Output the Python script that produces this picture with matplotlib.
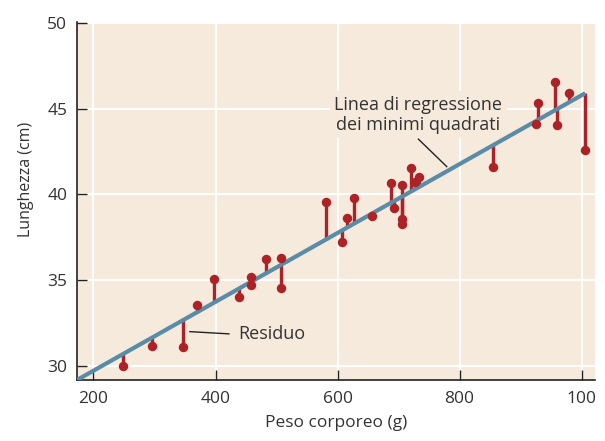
import numpy as np
import matplotlib
matplotlib.use("Agg")
import matplotlib.pyplot as plt

# --- data ---
peso = [249, 296, 346, 370, 397, 438, 458, 458, 482, 507, 507,
        581, 608, 616, 627, 657, 687, 693, 706, 706, 706, 720, 727, 733,
        855, 925, 929, 956, 960, 980, 1006]
lunghezza = [30.02, 31.18, 31.13, 33.56, 35.06, 34.0, 35.21, 34.72, 36.24, 36.28, 34.53,
             39.53, 37.25, 38.64, 39.77, 38.75, 40.65, 39.2, 40.55, 38.55, 38.28, 41.55, 40.75, 41.0,
             41.62, 44.11, 45.35, 46.56, 44.03, 45.92, 42.6]

# least squares line as drawn in the figure
fit_intercept = 25.71
fit_slope = 0.02007

x_ticks = [200, 400, 600, 800, 1000]
x_ticklabels = ["200", "400", "600", "800", "100"]
y_ticks = [30, 35, 40, 45, 50]

# --- style ---
BG = "#F5EADC"
RED = "#AC2226"
BLUE = "#5A8CA8"
TXT = "#333333"

plt.rcParams['font.family'] = ['Open Sans', 'DejaVu Sans']

fig = plt.figure(figsize=(6.05, 4.41), dpi=100)
ax = fig.add_axes([0.1273, 0.1383, 0.8562, 0.8118])
ax.set_facecolor(BG)

peso = np.array(peso)
lunghezza = np.array(lunghezza)
fitted = fit_intercept + fit_slope * peso

# residual stems
ax.vlines(peso, lunghezza, fitted, color=RED, lw=2.4, zorder=3)

# regression line (starts off the left edge, ends at the last point)
lx = np.array([100, peso.max()])
ax.plot(lx, fit_intercept + fit_slope * lx, color=BLUE, lw=3.0,
        solid_capstyle='butt', zorder=4)

ax.plot(peso, lunghezza, 'o', color=RED, ms=6.8, mec='none', zorder=5)

ax.set_xlim(173, 1022)
ax.set_ylim(29.18, 50.05)
ax.set_xticks(x_ticks)
ax.set_xticklabels(x_ticklabels)
ax.set_yticks(y_ticks)

ax.grid(True, color='white', lw=1.4, zorder=0)
ax.set_axisbelow(True)

for s in ['top', 'right']:
    ax.spines[s].set_visible(False)
for s in ['left', 'bottom']:
    ax.spines[s].set_color('#222222')
    ax.spines[s].set_linewidth(1.2)

ax.tick_params(direction='in', length=7.5, width=1.0, color='#222222',
               labelsize=12.5, labelcolor=TXT)
ax.tick_params(axis='x', pad=8)
ax.tick_params(axis='y', pad=7)

ax.set_xlabel("Peso corporeo (g)", fontsize=12.5, color=TXT, labelpad=6)
ax.set_ylabel("Lunghezza (cm)", fontsize=11.5, color=TXT)
ax.yaxis.set_label_coords(-0.083, 0.56)

# annotations (label box only hides the white grid, not the data)
ax.text(732, 44.64, "Linea di regressione\ndei minimi quadrati",
        ha='center', va='center', fontsize=13, color=TXT, linespacing=1.15,
        bbox=dict(boxstyle='square,pad=0.25', fc=BG, ec='none'), zorder=2)
ax.plot([732.6, 779], [43.22, 41.62], color='#222222', lw=1.0, zorder=6)

ax.plot([358, 422], [32.0, 31.87], color='#222222', lw=1.0, zorder=6)
ax.text(437, 31.88, "Residuo", ha='left', va='center', fontsize=13, color=TXT)

fig.savefig("out.png", dpi=100)
